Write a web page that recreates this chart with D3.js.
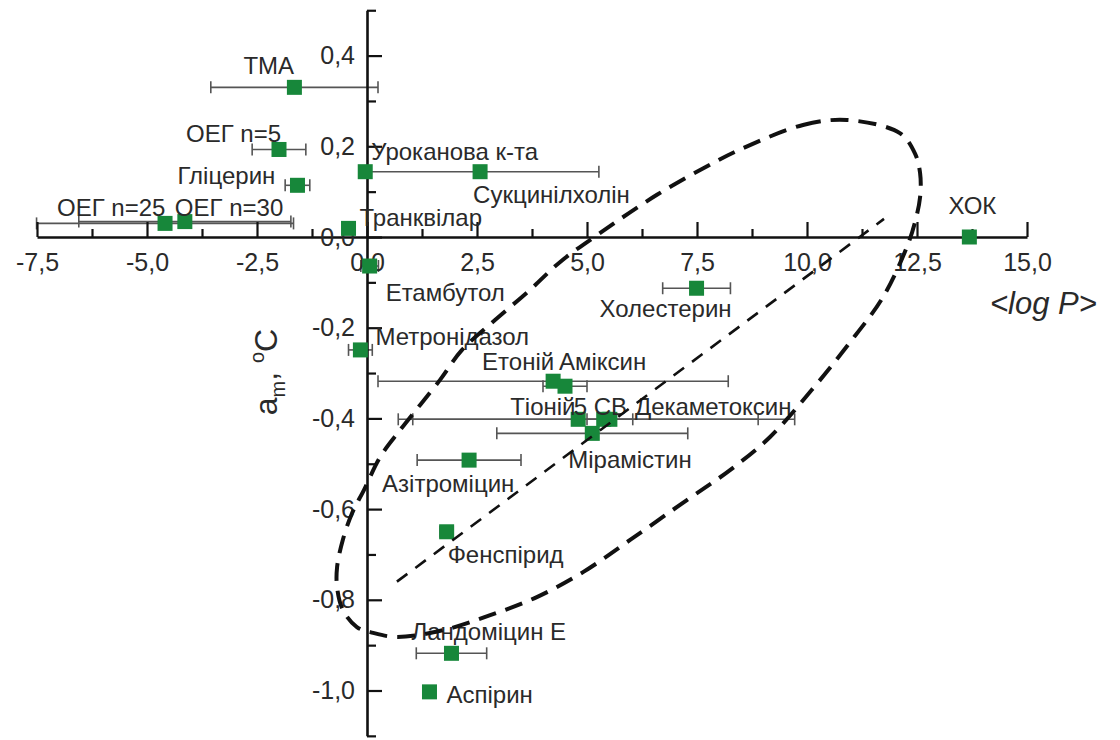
<!DOCTYPE html>
<html>
<head>
<meta charset="utf-8">
<script src="https://cdn.jsdelivr.net/npm/d3@7"></script>
<style>
  html, body { margin: 0; padding: 0; background: #ffffff; }
  svg { display: block; font-family: "Liberation Sans", Arial, sans-serif; }
</style>
</head>
<body>
<svg id="chart" width="1120" height="740"></svg>
<script>
// Compounds: mean lipophilicity <log P> and the shift a_m (°C)
const names = ["ТМА", "ОЕГ n=5", "Гліцерин", "ОЕГ n=25", "ОЕГ n=30", "Транквілар",
  "Уроканова к-та", "Сукцинілхолін", "ХОК", "Етамбутол", "Холестерин", "Метронідазол",
  "Етоній", "Аміксин", "Тіоній", "5 СВ", "Декаметоксин", "Мірамістин",
  "Азітроміцин", "Фенспірид", "Ландоміцин Е", "Аспірин"];
const logP = [-1.65, -2.0, -1.58, -4.59, -4.14, -0.42, -0.04, 2.57, 13.69, 0.06, 7.49, -0.15,
  4.23, 4.5, 4.8, 5.38, 5.52, 5.12, 2.32, 1.81, 1.92, 1.42];
const am = [0.33, 0.193, 0.114, 0.03, 0.034, 0.019, 0.144, 0.144, 0.0, -0.064, -0.113, -0.249,
  -0.318, -0.329, -0.402, -0.402, -0.402, -0.433, -0.492, -0.65, -0.918, -1.003];
const logPErr = [1.9, 0.61, 0.28, 2.92, 2.41, 0, 0, 2.7, 0, 0.2, 0.77, 0.27,
  3.98, 0.5, 4.09, 4.34, 0.52, 2.17, 1.18, 0.15, 0.8, 0];

// Axis ticks
const xMajor = [-7.5, -5, -2.5, 0, 2.5, 5, 7.5, 10, 12.5, 15];
const xTickLabels = ["-7,5", "-5,0", "-2,5", "0,0", "2,5", "5,0", "7,5", "10,0", "12,5", "15,0"];
const xMinor = [-6.25, -3.75, -1.25, 1.25, 3.75, 6.25, 8.75, 11.25, 13.75];
const yMajor = [0.4, 0.2, 0, -0.2, -0.4, -0.6, -0.8, -1.0];
const yTickLabels = ["0,4", "0,2", "0,0", "-0,2", "-0,4", "-0,6", "-0,8", "-1,0"];
const yMinor = [0.5, 0.3, 0.1, -0.1, -0.3, -0.5, -0.7, -0.9, -1.1];

// Outline of the highlighted group (dashed contour) and its trend line
const contourLogP = [8.55, 9.91, 10.91, 12.11, 12.45, 12.57, 12.57, 12.45, 12.27, 11.73, 10.93, 10.11,
  9.16, 8.25, 7.27, 5.98, 4.91, 3.86, 2.80, 1.73, 0.68, 0.14, -0.23, -0.55, -0.68, -0.68,
  -0.55, -0.34, -0.07, 0.30, 0.75, 1.66, 2.16, 2.91, 3.70, 4.39, 5.30, 6.59, 7.86];
const contourAm = [0.196, 0.247, 0.258, 0.229, 0.185, 0.141, 0.088, 0.031, -0.022, -0.132, -0.238, -0.337,
  -0.441, -0.514, -0.580, -0.668, -0.739, -0.794, -0.834, -0.867, -0.882, -0.873, -0.860, -0.822, -0.772, -0.728,
  -0.668, -0.609, -0.558, -0.485, -0.426, -0.315, -0.249, -0.183, -0.117, -0.055, 0.009, 0.093, 0.163];
const trendLogP = [0.68, 11.75];
const trendAm = [-0.76, 0.04];

// Label placement relative to each marker: [dx, dy, anchor]
const labelPlace = [
  [-51, -13, "start"], [-93, -7, "start"], [-120, -1, "start"], [-108, -7, "start"], [-10, -6, "start"],
  [11, -2, "start"], [6, -12, "start"], [-7, 31, "start"], [3, -23, "middle"], [16, 35, "start"],
  [-97, 29, "start"], [15, -5, "start"], [-71, -11, "start"], [-6, -16, "start"], [-68, -4, "start"],
  [-30, -4, "start"], [25, -4, "start"], [-24, 35, "start"], [-87, 32, "start"], [1, 31, "start"],
  [-40, -13, "start"], [17, 11, "start"]
];

const svg = d3.select("#chart");
const x = d3.scaleLinear().domain([-7.5, 15]).range([37, 1027]);
const y = d3.scaleLinear().domain([0.5, -1.1]).range([10.25, 735.85]);

const ink = "#111";
const textCol = "#2a2a2a";
const green = "#17873a";

// Error bars
const eb = svg.append("g").attr("stroke", "#555").attr("stroke-width", 1.6).attr("fill", "none");
names.forEach((n, i) => {
  if (!logPErr[i]) return;
  const x0 = x(logP[i] - logPErr[i]), x1 = x(logP[i] + logPErr[i]), yy = y(am[i]);
  eb.append("line").attr("x1", x0).attr("x2", x1).attr("y1", yy).attr("y2", yy);
  eb.append("line").attr("x1", x0).attr("x2", x0).attr("y1", yy - 6).attr("y2", yy + 6);
  eb.append("line").attr("x1", x1).attr("x2", x1).attr("y1", yy - 6).attr("y2", yy + 6);
});

// X axis through a_m = 0
const gx = svg.append("g").attr("transform", `translate(0,${y(0)})`);
gx.call(d3.axisBottom(x).tickValues(xMajor).tickSize(-15).tickSizeOuter(0).tickPadding(16)
  .tickFormat((d, i) => xTickLabels[i]));
gx.append("g").call(d3.axisBottom(x).tickValues(xMinor).tickSize(-8).tickSizeOuter(0).tickFormat(""))
  .select(".domain").remove();

// Y axis through <log P> = 0
const gy = svg.append("g").attr("transform", `translate(${x(0)},0)`);
gy.call(d3.axisLeft(y).tickValues(yMajor).tickSize(-15).tickSizeOuter(0).tickPadding(12)
  .tickFormat((d, i) => yTickLabels[i]));
gy.append("g").call(d3.axisLeft(y).tickValues(yMinor).tickSize(-9).tickSizeOuter(0).tickFormat(""))
  .select(".domain").remove();

svg.selectAll(".domain").attr("stroke", ink).attr("stroke-width", 2.6);
svg.selectAll(".tick line").attr("stroke", ink).attr("stroke-width", 2.2);
svg.selectAll(".tick text").attr("fill", textCol).attr("font-size", 25)
  .attr("font-family", "Liberation Sans, Arial, sans-serif");

// Markers
svg.append("g").selectAll("rect").data(names).join("rect")
  .attr("x", (d, i) => x(logP[i]) - 7.5)
  .attr("y", (d, i) => y(am[i]) - 7.5)
  .attr("width", 15).attr("height", 15)
  .attr("fill", green);

// Compound labels
svg.append("g").selectAll("text").data(names).join("text")
  .attr("x", (d, i) => x(logP[i]) + labelPlace[i][0])
  .attr("y", (d, i) => y(am[i]) + labelPlace[i][1])
  .attr("text-anchor", (d, i) => labelPlace[i][2])
  .attr("font-size", 24)
  .attr("fill", textCol)
  .text(d => d);

// Dashed contour and trend line
const pts = contourLogP.map((v, i) => [x(v), y(contourAm[i])]);
svg.append("path")
  .attr("d", d3.line().curve(d3.curveCatmullRomClosed.alpha(0.5))(pts))
  .attr("fill", "none").attr("stroke", ink).attr("stroke-width", 4)
  .attr("stroke-dasharray", "18,10");
svg.append("path")
  .attr("d", d3.line()(trendLogP.map((v, i) => [x(v), y(trendAm[i])])))
  .attr("fill", "none").attr("stroke", ink).attr("stroke-width", 2.6)
  .attr("stroke-dasharray", "13,10");

// Axis titles
svg.append("text")
  .attr("x", 990).attr("y", 314)
  .attr("font-size", 31).attr("font-style", "italic").attr("fill", textCol)
  .text("<log P>");

const yt = svg.append("text")
  .attr("transform", "translate(277,372) rotate(-90)")
  .attr("text-anchor", "middle")
  .attr("font-size", 32).attr("fill", textCol);
yt.append("tspan").text("a");
yt.append("tspan").attr("font-size", 20).attr("dy", 8).text("m");
yt.append("tspan").attr("dy", -8).text(", ");
yt.append("tspan").attr("font-size", 20).attr("dy", -13).text("o");
yt.append("tspan").attr("dy", 13).text("C");
</script>
</body>
</html>
